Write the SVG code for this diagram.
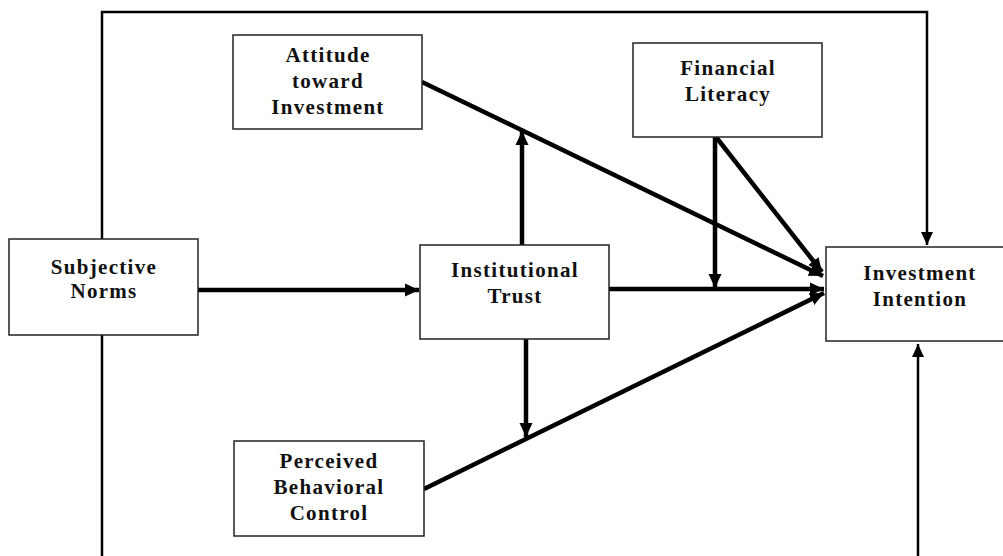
<svg xmlns="http://www.w3.org/2000/svg" width="1003" height="556" viewBox="0 0 1003 556">
<style>
.box{fill:#fff;stroke:#222;stroke-width:1.5}
.t{font-family:"Liberation Serif","Times New Roman",serif;font-weight:bold;font-size:21px;letter-spacing:1.3px;text-anchor:middle;fill:#111}
.frame{fill:none;stroke:#000;stroke-width:2.5}
.arr{fill:none;stroke:#000;stroke-width:4.5}
</style>
<defs>
<marker id="ah" markerUnits="userSpaceOnUse" markerWidth="16" markerHeight="16" refX="14" refY="8" orient="auto">
<path d="M0,1.5 L14,8 L0,14.5 z" fill="#000"/>
</marker>
<marker id="ahs" markerUnits="userSpaceOnUse" markerWidth="14" markerHeight="14" refX="13" refY="6.5" orient="auto">
<path d="M0,0.5 L13,6.5 L0,12.5 z" fill="#000"/>
</marker>
</defs>
<g id="connectors">
<path class="frame" d="M102,556 V12 H927 V245" marker-end="url(#ahs)"/>
<path class="frame" d="M918,556 V344" marker-end="url(#ahs)"/>
<path class="arr" d="M198,290 H419" marker-end="url(#ah)"/>
<path class="arr" d="M609,289 H824" marker-end="url(#ah)"/>
<path class="arr" d="M422,82 L823,276" marker-end="url(#ah)"/>
<path class="arr" d="M716,137 L822,272" marker-end="url(#ah)"/>
<path class="arr" d="M715,137 V288" marker-end="url(#ah)"/>
<path class="arr" d="M522,245 V131" marker-end="url(#ah)"/>
<path class="arr" d="M526,339 V437" marker-end="url(#ah)"/>
<path class="arr" d="M424,489 L824,293" marker-end="url(#ah)"/>
</g>
<g id="attitude">
<rect class="box" x="233" y="35" width="189" height="94"/>
<text class="t" x="328" y="62">Attitude</text>
<text class="t" x="328" y="88">toward</text>
<text class="t" x="328" y="114">Investment</text>
</g>
<g id="financial-literacy">
<rect class="box" x="633" y="43" width="189" height="94"/>
<text class="t" x="728" y="75">Financial</text>
<text class="t" x="728" y="101">Literacy</text>
</g>
<g id="subjective-norms">
<rect class="box" x="9" y="239" width="189" height="96"/>
<text class="t" x="104" y="274">Subjective</text>
<text class="t" x="104" y="298">Norms</text>
</g>
<g id="institutional-trust">
<rect class="box" x="420" y="245" width="189" height="94"/>
<text class="t" x="515" y="277">Institutional</text>
<text class="t" x="515" y="303">Trust</text>
</g>
<g id="investment-intention">
<rect class="box" x="826" y="247" width="189" height="94"/>
<text class="t" x="920" y="280">Investment</text>
<text class="t" x="920" y="306">Intention</text>
</g>
<g id="perceived-behavioral-control">
<rect class="box" x="234" y="441" width="190" height="95"/>
<text class="t" x="329" y="468">Perceived</text>
<text class="t" x="329" y="494">Behavioral</text>
<text class="t" x="329" y="520">Control</text>
</g>
</svg>
